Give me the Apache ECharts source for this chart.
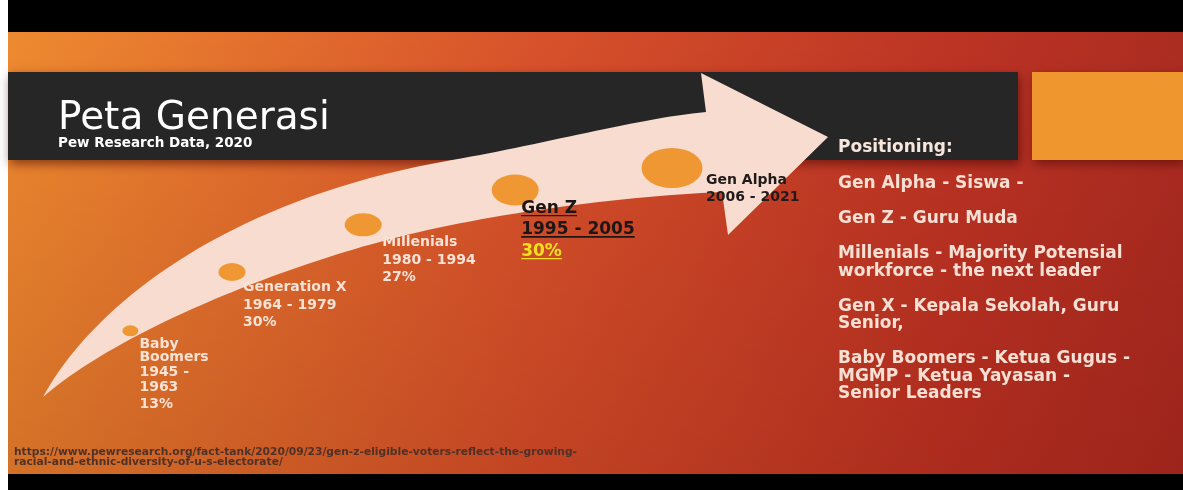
<!DOCTYPE html>
<html><head><meta charset="utf-8">
<script src="https://cdn.jsdelivr.net/npm/echarts@6/dist/echarts.min.js"></script>
<style>html,body{margin:0;padding:0;background:#fff;}#c{width:1183px;height:490px;}</style>
</head><body><div id="c"></div>
<script>
// ---- data ----
const generations = ['Baby Boomers', 'Generation X', 'Millenials', 'Gen Z', 'Gen Alpha'];
const birthYears = ['1945 - 1963', '1964 - 1979', '1980 - 1994', '1995 - 2005', '2006 - 2021'];
const shareOfElectorate = ['13%', '30%', '27%', '30%', ''];
// position of each generation along the arrow (progress 0-100) and its rise (0-100)
const arrowProgress = [11.3, 24, 40.4, 59.4, 79];
const arrowLift = [27.3, 42, 53.8, 62.5, 68];
const positioningTitle = 'Positioning:';
const positioning = [
  'Gen Alpha - Siswa -',
  'Gen Z - Guru Muda',
  'Millenials - Majority Potensial\nworkforce - the next leader',
  'Gen X - Kepala Sekolah, Guru\nSenior,',
  'Baby Boomers - Ketua Gugus -\nMGMP - Ketua Yayasan -\nSenior Leaders'
];
const sourceUrl = 'https://www.pewresearch.org/fact-tank/2020/09/23/gen-z-eligible-voters-reflect-the-growing-\nracial-and-ethnic-diversity-of-u-s-electorate/';

// ---- styles ----
const FONT = '"DejaVu Sans", sans-serif';
const markerSizes = [[16, 11], [27, 18], [37, 23], [47, 31], [61, 40]];
const labelOffsets = [[9, 7.5], [11, 7], [19, 9], [6, 7.5], [34, 3.5]];
const lightText = '#f7e2d6';

function underline(color) {
  return new echarts.graphic.LinearGradient(0, 0, 0, 1, [
    { offset: 0, color: 'rgba(0,0,0,0)' },
    { offset: 0.9, color: 'rgba(0,0,0,0)' },
    { offset: 0.9, color: color },
    { offset: 1, color: color }
  ]);
}

function labelFor(i) {
  const name = generations[i], yrs = birthYears[i], pct = shareOfElectorate[i];
  if (i === 0) {
    const nm = name.split(' ');
    const yy = yrs.split(' - ');
    return nm.map(s => '{n|' + s + '}').join('\n') + '\n{y|' + yy[0] + ' -}\n{n|' + yy[1] + '}\n{p|' + pct + '}';
  }
  if (i === 3) {
    return '{zu|' + name + '}\n{zu|' + yrs + '}\n{zp|' + pct + '}';
  }
  if (i === 4) {
    return '{d|' + name + '}\n{d|' + yrs + '}';
  }
  return '{t|' + name + '}\n{t|' + yrs + '}\n{t|' + pct + '}';
}

const seriesData = generations.map((g, i) => ({
  name: g,
  value: [arrowProgress[i], arrowLift[i]],
  symbolSize: markerSizes[i],
  label: { offset: labelOffsets[i] }
}));

// ---- decorative arrow outline (cubic segments sampled into a polygon) ----
function cubic(p0, p1, p2, p3, n) {
  const pts = [];
  for (let k = 1; k <= n; k++) {
    const t = k / n, u = 1 - t;
    pts.push([
      u * u * u * p0[0] + 3 * u * u * t * p1[0] + 3 * u * t * t * p2[0] + t * t * t * p3[0],
      u * u * u * p0[1] + 3 * u * u * t * p1[1] + 3 * u * t * t * p2[1] + t * t * t * p3[1]
    ]);
  }
  return pts;
}
const arrowPts = [[43, 397]]
  .concat(cubic([43, 397], [90, 310], [220, 200], [452, 160], 40))
  .concat(cubic([452, 160], [540, 145], [640, 118], [706, 112], 30))
  .concat([[701, 73], [828, 137], [728, 235], [722, 192]])
  .concat(cubic([722, 192], [620, 196], [480, 215], [387, 240], 30))
  .concat(cubic([387, 240], [280, 268], [120, 330], [43, 397], 40));

const chart = echarts.init(document.getElementById('c'), null, { renderer: 'canvas' });

const bgGradient = new echarts.graphic.LinearGradient(0, 0, 1, 0, [
  { offset: 0, color: '#ee8a30' },
  { offset: 0.45, color: '#d8522b' },
  { offset: 0.8, color: '#bd3424' },
  { offset: 1, color: '#ac2c21' }
]);
const bgShade = new echarts.graphic.LinearGradient(0, 0, 0, 1, [
  { offset: 0, color: 'rgba(90,0,0,0)' },
  { offset: 1, color: 'rgba(90,0,0,0.18)' }
]);

chart.setOption({
  animation: false,
  backgroundColor: '#ffffff',
  title: {
    text: 'Peta Generasi',
    subtext: 'Pew Research Data, 2020',
    left: 58, top: 99, padding: 0, itemGap: -4, z: 20,
    textStyle: { color: '#ffffff', fontSize: 39, fontWeight: 'normal', fontFamily: FONT, lineHeight: 40 },
    subtextStyle: { color: '#ffffff', fontSize: 13.5, fontWeight: 'bold', fontFamily: FONT, lineHeight: 17 }
  },
  grid: { left: 40, top: 40, width: 800, height: 400, show: false },
  xAxis: { type: 'value', min: 0, max: 100, show: false },
  yAxis: { type: 'value', min: 0, max: 100, show: false },
  graphic: [
    { type: 'rect', z: -10, silent: true, shape: { x: 8, y: 0, width: 1175, height: 490 }, style: { fill: '#000000' } },
    { type: 'rect', z: -9, silent: true, shape: { x: 8, y: 32, width: 1175, height: 442 }, style: { fill: bgGradient } },
    { type: 'rect', z: -8, silent: true, shape: { x: 8, y: 32, width: 1175, height: 442 }, style: { fill: bgShade } },
    { type: 'rect', z: -7, silent: true, shape: { x: 8, y: 72, width: 1010, height: 88 },
      style: { fill: '#262626', shadowBlur: 10, shadowOffsetY: 4, shadowOffsetX: 2, shadowColor: 'rgba(60,0,0,0.55)' } },
    { type: 'rect', z: -7, silent: true, shape: { x: 1032, y: 72, width: 151, height: 88 },
      style: { fill: '#f0962e', shadowBlur: 10, shadowOffsetY: 4, shadowOffsetX: 2, shadowColor: 'rgba(60,0,0,0.5)' } },
    { type: 'polygon', z: -6, silent: true, shape: { points: arrowPts }, style: { fill: '#f8dccf' } },
    { type: 'text', z: 20, silent: true, x: 838, y: 148,
      style: { text: positioningTitle, fill: '#f7e6dc', font: 'bold 17px ' + FONT, align: 'left', verticalAlign: 'middle' } },
    { type: 'text', z: 20, silent: true, x: 838, y: 175.25,
      style: { text: positioning.join('\n\n'), fill: '#f6dfd3', font: 'bold 17px ' + FONT, lineHeight: 17.5, align: 'left', verticalAlign: 'top' } },
    { type: 'text', z: 20, silent: true, x: 14, y: 447,
      style: { text: sourceUrl, fill: '#4e3128', font: 'bold 10.7px ' + FONT, lineHeight: 10, align: 'left', verticalAlign: 'top' } }
  ],
  series: [{
    type: 'scatter',
    silent: true,
    z: 5,
    data: seriesData,
    itemStyle: { color: '#ef9833', opacity: 1 },
    label: {
      show: true,
      position: ['50%', '50%'],
      align: 'left',
      verticalAlign: 'top',
      formatter: p => labelFor(p.dataIndex),
      rich: {
        n: { color: lightText, fontFamily: FONT, fontWeight: 'bold', fontSize: 14, lineHeight: 13 },
        y: { color: lightText, fontFamily: FONT, fontWeight: 'bold', fontSize: 14, lineHeight: 17 },
        p: { color: lightText, fontFamily: FONT, fontWeight: 'bold', fontSize: 14, lineHeight: 21 },
        t: { color: lightText, fontFamily: FONT, fontWeight: 'bold', fontSize: 14, lineHeight: 17.5 },
        zu: { color: '#1c1616', fontFamily: FONT, fontWeight: 'bold', fontSize: 17, lineHeight: 21.5, height: 16,
              backgroundColor: underline('#1c1616') },
        zp: { color: '#f3e01f', fontFamily: FONT, fontWeight: 'bold', fontSize: 17, lineHeight: 21.5, height: 16,
              backgroundColor: underline('#f3e01f') },
        d: { color: '#201a1a', fontFamily: FONT, fontWeight: 'bold', fontSize: 14, lineHeight: 17 }
      }
    }
  }]
});
</script>
</body></html>
